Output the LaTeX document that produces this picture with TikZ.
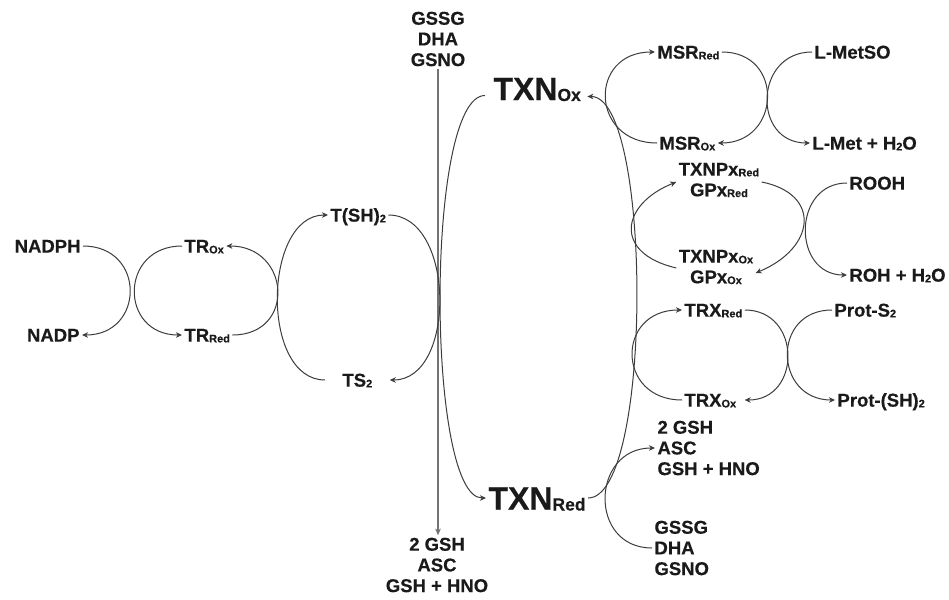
\documentclass[tikz,border=0pt]{standalone}
\usepackage{fontspec}
\setmainfont{Liberation Sans}[BoldFeatures={FakeBold=0.4}]
\usetikzlibrary{arrows.meta}
\definecolor{ink}{HTML}{1A1A1A}
\definecolor{wire}{HTML}{3C3C3C}
% small index letters (Ox, Red, 2) sitting on the baseline
\newcommand{\lo}[1]{\raisebox{-0.8pt}{\fontsize{11}{11}\selectfont #1}}
\newcommand{\loL}[1]{\raisebox{-1pt}{\fontsize{17.5}{17.5}\selectfont #1}}
\begin{document}
\begin{tikzpicture}[x=1pt,y=-1pt,
  lbl/.style={font=\fontsize{18.5}{20.7}\selectfont\bfseries, text=ink, inner sep=0pt, outer sep=2.5pt, text height=13.2pt, text depth=0pt},
  blk/.style={font=\fontsize{18.5}{20.7}\selectfont\bfseries, text=ink, inner sep=0pt, outer sep=2.5pt},
  big/.style={font=\fontsize{32}{32}\selectfont\bfseries, text=ink, inner sep=0pt, outer sep=2.5pt, text height=23pt, text depth=0pt},
  link/.style={draw=wire, line width=1pt},
  arr/.style={-{Stealth[length=6pt,width=5.5pt,inset=1.8pt]}},
  axis/.style={draw=black!55, line width=1.5pt, -{Stealth[length=6.5pt,width=5.5pt,inset=1.6pt]}}
]
\useasboundingbox (0,0) rectangle (949,599);

% ---- NADPH / thioredoxin reductase ----
\node[lbl,anchor=east] (nadph) at (83,246) {NADPH};
\node[lbl,anchor=east] (nadp) at (82,335) {NADP};
\node[lbl,anchor=west] (trox) at (182,246) {TR\lo{Ox}};
\node[lbl,anchor=west] (trred) at (182,335) {TR\lo{Red}};

% ---- trypanothione ----
\node[lbl,anchor=west] (tsh) at (328,215) {T(SH)\lo{2}};
\node[lbl,anchor=west] (tss) at (340,380) {TS\lo{2}};

% ---- central axis ----
\node[blk,align=center] (gtop) at (438,39) {GSSG\\DHA\\GSNO};
\node[blk,align=center] (gbot) at (437,565) {2 GSH\\ASC\\GSH + HNO};

% ---- tryparedoxin ----
\node[big,anchor=west] (txnox) at (491,88.5) {TXN\loL{Ox}};
\node[big,anchor=west] (txnred) at (486,498) {TXN\loL{Red}};

% ---- methionine sulfoxide reductase ----
\node[lbl,anchor=west] (msrred) at (655,52) {MSR\lo{Red}};
\node[lbl,anchor=west] (msrox) at (657,143) {MSR\lo{Ox}};
\node[lbl,anchor=west] (metso) at (812,52) {L-MetSO};
\node[lbl,anchor=west] (met) at (810,143) {L-Met + H\lo{2}O};

% ---- peroxidases ----
\node[blk,align=center] (pxred) at (719,180) {TXNPx\lo{Red}\\GPx\lo{Red}};
\node[blk,align=center] (pxox) at (716,267) {TXNPx\lo{Ox}\\GPx\lo{Ox}};
\node[lbl,anchor=west] (rooh) at (847,183) {ROOH};
\node[lbl,anchor=west] (roh) at (847,275) {ROH + H\lo{2}O};

% ---- thioredoxin ----
\node[lbl,anchor=west] (trxred) at (682,310) {TRX\lo{Red}};
\node[lbl,anchor=west] (trxox) at (682,400) {TRX\lo{Ox}};
\node[lbl,anchor=west] (prots) at (832,310) {Prot-S\lo{2}};
\node[lbl,anchor=west] (protsh) at (835,400) {Prot-(SH)\lo{2}};

% ---- low molecular weight thiols ----
\node[blk,align=left,anchor=west] (gshr) at (655,448) {2 GSH\\ASC\\GSH + HNO};
\node[blk,align=left,anchor=west] (gssgr) at (652,548) {GSSG\\DHA\\GSNO};

% ================= connectors =================
\draw[axis] (gtop.south) -- (gtop.south |- gbot.north);

\draw[link,arr] (nadph.east) .. controls +(63,0) and +(63,0) .. (nadp.east);
\draw[link,arr] (trox.west) .. controls +(-63,0) and +(-63,0) .. (trred.west);
\draw[link,arr] (trred.east) .. controls +(64,0) and +(64,0) .. (trox.east);

\draw[link,arr] ([xshift=-15pt]tss.west) .. controls +(-65,0) and +(-65,0) .. (tsh.west);
\draw[link,arr] (tsh.east) .. controls +(67,0) and +(67,0) .. ([xshift=15pt]tss.east);

\draw[link,arr] ([shift={(-6pt,-7pt)}]txnox.west) .. controls +(-60,0) and +(-60,0) .. (txnred.west);
\draw[link,arr] (txnred.east) .. controls +(65,0) and +(65,0) .. ([shift={(4pt,-8pt)}]txnox.east);

\draw[link,arr] (msrox.west) .. controls +(-67,0) and +(-67,0) .. (msrred.west);
\draw[link,arr] (msrred.east) .. controls +(63,0) and +(63,0) .. (msrox.east);
\draw[link,arr] (metso.west) .. controls +(-58,0) and +(-58,0) .. (met.west);

\draw[link,arr] ([yshift=-1pt]pxox.west) .. controls +(-64,-15) and +(-55,22) .. ([yshift=-2pt]pxred.west);
\draw[link,arr] ([yshift=-2pt]pxred.east) .. controls +(60,12) and +(60,-25) .. ([yshift=-6pt]pxox.east);
\draw[link,arr] (rooh.west) .. controls +(-55,0) and +(-55,0) .. (roh.west);

\draw[link,arr] (trxox.west) .. controls +(-66,0) and +(-66,0) .. (trxred.west);
\draw[link,arr] (trxred.east) .. controls +(57,0) and +(57,0) .. ([xshift=6pt]trxox.east);
\draw[link,arr] (prots.west) .. controls +(-61,0) and +(-61,0) .. (protsh.west);

\draw[link,arr] (gssgr.west) .. controls +(-64,0) and +(-64,0) .. (gshr.west);
\end{tikzpicture}
\end{document}
